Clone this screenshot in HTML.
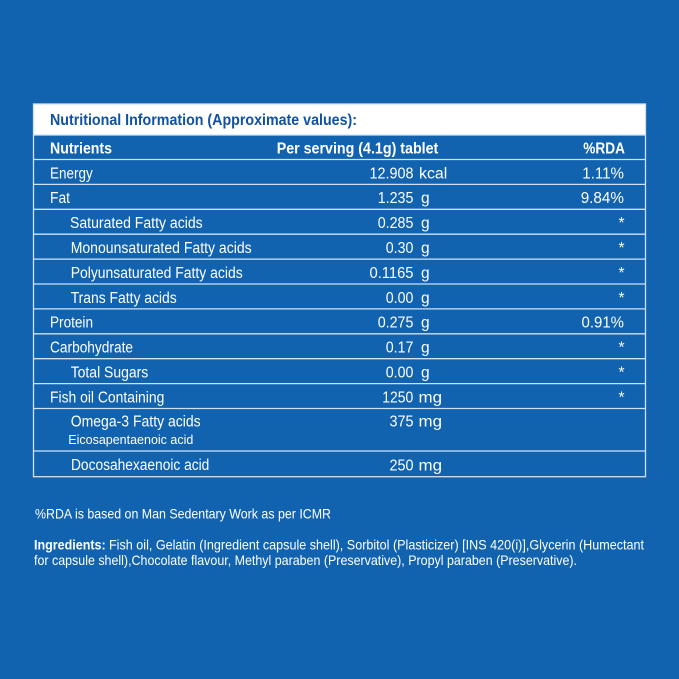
<!DOCTYPE html>
<html>
<head>
<meta charset="utf-8">
<style>
  html,body{margin:0;padding:0;background:#1163b0;}
  svg{display:block;}
  text{font-family:"Liberation Sans",sans-serif;}
</style>
</head>
<body>
<svg width="679" height="679" viewBox="0 0 679 679" xmlns="http://www.w3.org/2000/svg">
  <rect x="0" y="0" width="679" height="679" fill="#1163b0"/>
  <!-- title bar -->
  <rect x="33.5" y="104" width="612" height="31" fill="#ffffff"/>
  <text x="50" y="125" font-size="16" font-weight="bold" fill="#10529f" textLength="307" lengthAdjust="spacingAndGlyphs">Nutritional Information (Approximate values):</text>

  <!-- table borders -->
  <g stroke="#cfe2f4" stroke-width="1.3" fill="none">
    <rect x="33.5" y="104" width="612" height="372.7"/>
    <line x1="33.5" y1="135" x2="645.5" y2="135"/>
    <line x1="33.5" y1="159.5" x2="645.5" y2="159.5"/>
    <line x1="33.5" y1="184.4" x2="645.5" y2="184.4"/>
    <line x1="33.5" y1="209.3" x2="645.5" y2="209.3"/>
    <line x1="33.5" y1="234.2" x2="645.5" y2="234.2"/>
    <line x1="33.5" y1="259.1" x2="645.5" y2="259.1"/>
    <line x1="33.5" y1="284.0" x2="645.5" y2="284.0"/>
    <line x1="33.5" y1="308.9" x2="645.5" y2="308.9"/>
    <line x1="33.5" y1="333.8" x2="645.5" y2="333.8"/>
    <line x1="33.5" y1="358.7" x2="645.5" y2="358.7"/>
    <line x1="33.5" y1="383.6" x2="645.5" y2="383.6"/>
    <line x1="33.5" y1="408.5" x2="645.5" y2="408.5"/>
    <line x1="33.5" y1="451" x2="645.5" y2="451"/>
  </g>

  <g fill="#ffffff">
    <!-- header row -->
    <text x="50" y="153.3" font-size="16" font-weight="bold" textLength="62" lengthAdjust="spacingAndGlyphs">Nutrients</text>
    <text x="276.7" y="153.3" font-size="16" font-weight="bold" textLength="161.6" lengthAdjust="spacingAndGlyphs">Per serving (4.1g) tablet</text>
    <text x="583.3" y="153.3" font-size="16" font-weight="bold" textLength="41.7" lengthAdjust="spacingAndGlyphs">%RDA</text>

    <!-- name column -->
    <g font-size="15.5">
      <text x="50" y="178.3" textLength="42.7" lengthAdjust="spacingAndGlyphs">Energy</text>
      <text x="50" y="203.2" textLength="20" lengthAdjust="spacingAndGlyphs">Fat</text>
      <text x="70" y="228.1" textLength="132.7" lengthAdjust="spacingAndGlyphs">Saturated Fatty acids</text>
      <text x="70.7" y="253.0" textLength="181" lengthAdjust="spacingAndGlyphs">Monounsaturated Fatty acids</text>
      <text x="70.7" y="277.9" textLength="172" lengthAdjust="spacingAndGlyphs">Polyunsaturated Fatty acids</text>
      <text x="70.7" y="302.8" textLength="106" lengthAdjust="spacingAndGlyphs">Trans Fatty acids</text>
      <text x="50" y="327.7" textLength="43" lengthAdjust="spacingAndGlyphs">Protein</text>
      <text x="50" y="352.6" textLength="83" lengthAdjust="spacingAndGlyphs">Carbohydrate</text>
      <text x="70.7" y="377.5" textLength="77.6" lengthAdjust="spacingAndGlyphs">Total Sugars</text>
      <text x="50" y="402.4" textLength="114.3" lengthAdjust="spacingAndGlyphs">Fish oil Containing</text>
      <text x="70.7" y="426.7" textLength="130" lengthAdjust="spacingAndGlyphs">Omega-3 Fatty acids</text>
      <text x="68.3" y="444" font-size="13" textLength="125" lengthAdjust="spacingAndGlyphs">Eicosapentaenoic acid</text>
      <text x="71" y="470" textLength="138.3" lengthAdjust="spacingAndGlyphs">Docosahexaenoic acid</text>
    </g>

    <!-- value column -->
    <g font-size="15.5">
      <text x="369.5" y="178.3" textLength="44" lengthAdjust="spacingAndGlyphs">12.908</text>
      <text x="419" y="178.3" textLength="28.3" lengthAdjust="spacingAndGlyphs">kcal</text>
      <text x="377.7" y="203.2" textLength="35.7" lengthAdjust="spacingAndGlyphs">1.235</text>
      <text x="421" y="203.2">g</text>
      <text x="377.7" y="228.1" textLength="35.7" lengthAdjust="spacingAndGlyphs">0.285</text>
      <text x="421" y="228.1">g</text>
      <text x="385.8" y="253.0" textLength="27.6" lengthAdjust="spacingAndGlyphs">0.30</text>
      <text x="421" y="253.0">g</text>
      <text x="369.5" y="277.9" textLength="44" lengthAdjust="spacingAndGlyphs">0.1165</text>
      <text x="421" y="277.9">g</text>
      <text x="385.8" y="302.8" textLength="27.6" lengthAdjust="spacingAndGlyphs">0.00</text>
      <text x="421" y="302.8">g</text>
      <text x="377.7" y="327.7" textLength="35.7" lengthAdjust="spacingAndGlyphs">0.275</text>
      <text x="421" y="327.7">g</text>
      <text x="385.8" y="352.6" textLength="27.6" lengthAdjust="spacingAndGlyphs">0.17</text>
      <text x="421" y="352.6">g</text>
      <text x="385.8" y="377.5" textLength="27.6" lengthAdjust="spacingAndGlyphs">0.00</text>
      <text x="421" y="377.5">g</text>
      <text x="382.3" y="402.4" textLength="31" lengthAdjust="spacingAndGlyphs">1250</text>
      <text x="418.5" y="402.4" textLength="23.5" lengthAdjust="spacingAndGlyphs">mg</text>
      <text x="389.5" y="426.7" textLength="24" lengthAdjust="spacingAndGlyphs">375</text>
      <text x="418.5" y="426.7" textLength="23.5" lengthAdjust="spacingAndGlyphs">mg</text>
      <text x="389.5" y="470.5" textLength="24" lengthAdjust="spacingAndGlyphs">250</text>
      <text x="418.5" y="470.5" textLength="23.5" lengthAdjust="spacingAndGlyphs">mg</text>
    </g>

    <!-- RDA column -->
    <g font-size="15.5">
      <text x="582.3" y="178.3" textLength="41.7" lengthAdjust="spacingAndGlyphs">1.11%</text>
      <text x="580.7" y="203.2" textLength="43.3" lengthAdjust="spacingAndGlyphs">9.84%</text>
      <text x="624.5" y="228.1" text-anchor="end">*</text>
      <text x="624.5" y="253.0" text-anchor="end">*</text>
      <text x="624.5" y="277.9" text-anchor="end">*</text>
      <text x="624.5" y="302.8" text-anchor="end">*</text>
      <text x="581.5" y="327.7" textLength="42.5" lengthAdjust="spacingAndGlyphs">0.91%</text>
      <text x="624.5" y="352.6" text-anchor="end">*</text>
      <text x="624.5" y="377.5" text-anchor="end">*</text>
      <text x="624.5" y="402.4" text-anchor="end">*</text>
    </g>

    <!-- footnotes -->
    <text x="35" y="518.3" font-size="14" textLength="296" lengthAdjust="spacingAndGlyphs">%RDA is based on Man Sedentary Work as per ICMR</text>
    <text x="34" y="549.5" font-size="14" font-weight="bold" textLength="71.7" lengthAdjust="spacingAndGlyphs">Ingredients:</text>
    <text x="109" y="549.5" font-size="14" textLength="535" lengthAdjust="spacingAndGlyphs">Fish oil, Gelatin (Ingredient capsule shell), Sorbitol (Plasticizer) [INS 420(i)],Glycerin (Humectant</text>
    <text x="34" y="565" font-size="14" textLength="543" lengthAdjust="spacingAndGlyphs">for capsule shell),Chocolate flavour, Methyl paraben (Preservative), Propyl paraben (Preservative).</text>
  </g>
</svg>
</body>
</html>
